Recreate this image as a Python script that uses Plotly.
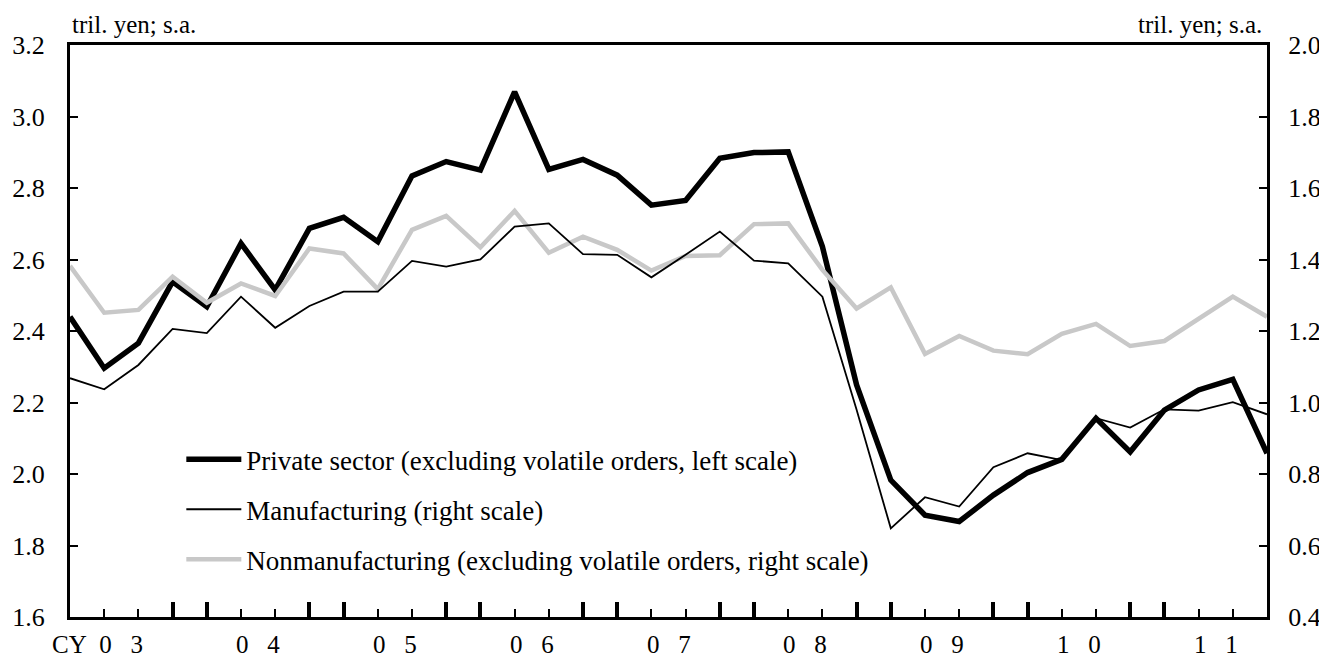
import plotly.graph_objects as go

# ---------------- data ----------------
years = ["03", "04", "05", "06", "07", "08", "09", "10", "11"]
quarters = [f"20{y}Q{q}" for y in years for q in range(1, 5)]

# Private sector (excluding volatile orders), tril. yen, left scale
private = [2.440, 2.296, 2.366, 2.538, 2.468, 2.645, 2.515, 2.687, 2.718, 2.650,
           2.834, 2.874, 2.850, 3.069, 2.852, 2.880, 2.836, 2.752, 2.765, 2.883,
           2.899, 2.901, 2.636, 2.249, 1.983, 1.885, 1.867, 1.941, 2.004, 2.041,
           2.156, 2.062, 2.179, 2.235, 2.265, 2.058]
# Manufacturing, right scale
manufacturing = [1.068, 1.037, 1.105, 1.206, 1.194, 1.296, 1.209, 1.270, 1.310, 1.310,
                 1.396, 1.380, 1.400, 1.492, 1.501, 1.415, 1.413, 1.350, 1.413, 1.478,
                 1.397, 1.389, 1.296, 0.980, 0.648, 0.735, 0.709, 0.819, 0.858, 0.839,
                 0.956, 0.930, 0.981, 0.977, 1.001, 0.967]
# Nonmanufacturing (excluding volatile orders), right scale
nonmanufacturing = [1.382, 1.251, 1.259, 1.352, 1.279, 1.333, 1.298, 1.431, 1.417, 1.317,
                    1.483, 1.522, 1.434, 1.536, 1.419, 1.464, 1.427, 1.369, 1.410, 1.412,
                    1.499, 1.501, 1.371, 1.263, 1.322, 1.136, 1.186, 1.145, 1.135, 1.192,
                    1.220, 1.158, 1.172, 1.233, 1.296, 1.240]

NB = "\u00a0"
year_labels = ["CY" + NB * 2 + "0" + NB * 3 + "3"] + [y[0] + NB * 3 + y[1] for y in years[1:]]
left_ticks = [1.6, 1.8, 2.0, 2.2, 2.4, 2.6, 2.8, 3.0, 3.2]
right_ticks = [0.4, 0.6, 0.8, 1.0, 1.2, 1.4, 1.6, 1.8, 2.0]

names = ["Private sector (excluding volatile orders, left scale)",
         "Manufacturing (right scale)",
         "Nonmanufacturing (excluding volatile orders, right scale)"]

# ---------------- figure ----------------
x = list(range(len(quarters)))
n = len(quarters)

FONT = "Liberation Serif, Times New Roman, serif"
FS = 25

fig = go.Figure()
fig.add_trace(go.Scatter(x=x, y=nonmanufacturing, name=names[2], yaxis="y2", mode="lines",
                         line=dict(color="#c8c8c8", width=4.5), legendrank=3, legendgroup="c"))
fig.add_trace(go.Scatter(x=x, y=manufacturing, name=names[1], yaxis="y2", mode="lines",
                         line=dict(color="black", width=1.8), legendrank=2, legendgroup="b"))
fig.add_trace(go.Scatter(x=x, y=private, name=names[0], yaxis="y", mode="lines",
                         line=dict(color="black", width=5.5), legendrank=1, legendgroup="a"))

# tick positions: year boundaries (thick) and other quarters (thin)
major = [0] + [v for k in range(1, len(years)) for v in (4 * k - 1, 4 * k)] + [n - 1]
minor = [v for v in x if v not in major]
label_pos = [4 * k + 1.5 for k in range(len(years))]
label_pos[0] -= 0.7  # "CY" prefix extends to the left

axis_common = dict(showgrid=False, zeroline=False, color="black", automargin=False)

year_annotations = [
    dict(text=t, x=p, xref="x", y=0, yref="paper", xanchor="center", yanchor="top",
         yshift=-13, borderpad=0, showarrow=False, font=dict(family=FONT, size=25))
    for t, p in zip(year_labels, label_pos)
]

# the page body has an 8px margin, so the figure is sized/offset to compensate
fig.update_layout(
    width=1319, height=655,
    paper_bgcolor="white", plot_bgcolor="white",
    margin=dict(l=62, r=60, t=37, b=46, autoexpand=False),
    font=dict(family=FONT, size=FS, color="black"),
    showlegend=True,
    legend=dict(x=0.093, y=0.318, xanchor="left", yanchor="top",
                bgcolor="rgba(0,0,0,0)", traceorder="grouped", tracegroupgap=12,
                itemwidth=55, font=dict(family=FONT, size=27)),
    xaxis=dict(range=[0, n - 1], tickmode="array", tickvals=major, ticks="inside",
               ticklen=15, tickwidth=3.5, tickcolor="black", showticklabels=False,
               showline=True, linewidth=3, linecolor="black", mirror=True,
               minor=dict(tickmode="array", tickvals=minor, ticks="inside", ticklen=8,
                          tickwidth=1.5, tickcolor="black"),
               **axis_common),
    yaxis=dict(range=[1.6, 3.2], tickmode="array", tickvals=left_ticks, tickformat=".1f",
               ticks="inside", ticklen=8, tickwidth=2, tickcolor="black",
               showline=True, linewidth=3, linecolor="black", ticklabelstandoff=17,
               tickfont=dict(family=FONT, size=26), **axis_common),
    yaxis2=dict(range=[0.4, 2.0], tickmode="array", tickvals=right_ticks, tickformat=".1f",
                overlaying="y", side="right", anchor="x",
                ticks="inside", ticklen=8, tickwidth=2, tickcolor="black",
                showline=True, linewidth=3, linecolor="black", ticklabelstandoff=13,
                tickfont=dict(family=FONT, size=26), **axis_common),
    annotations=year_annotations + [
        dict(text="tril. yen; s.a.", xref="paper", yref="paper", x=0, y=1,
             xanchor="left", yanchor="bottom", showarrow=False, xshift=0, yshift=5,
             font=dict(family=FONT, size=FS)),
        dict(text="tril. yen; s.a.", xref="paper", yref="paper", x=1, y=1,
             xanchor="right", yanchor="bottom", showarrow=False, xshift=-3, yshift=5,
             font=dict(family=FONT, size=FS)),
    ],
)

fig.write_html("out.html")
